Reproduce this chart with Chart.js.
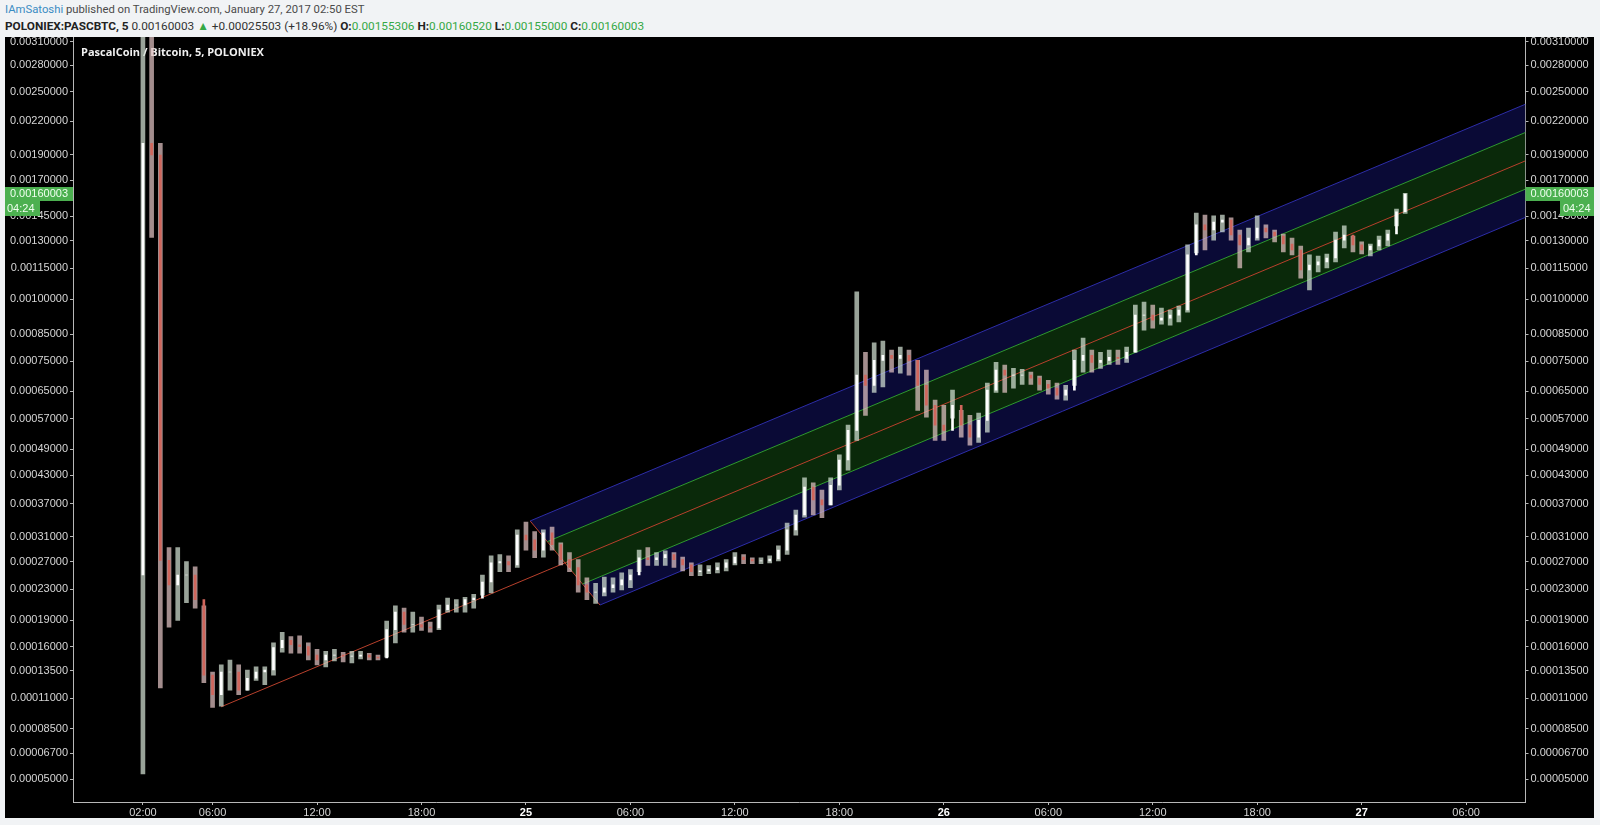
<!DOCTYPE html>
<html>
<head>
<meta charset="utf-8">
<script src="https://cdn.jsdelivr.net/npm/chart.js@4.4.1/dist/chart.umd.min.js"></script>
<style>
  html, body { margin:0; padding:0; background:#f1f3f5; }
  body { width:1600px; height:825px; position:relative; overflow:hidden; font-family:Roboto, sans-serif; }
  .hdr { position:absolute; left:5px; white-space:nowrap; color:#4a4a4a; }
  #l1 { top:3px; font-size:11.3px; }
  #l2 { top:19px; font-size:11.8px; color:#333; }
  .who { color:#3a8cc3; }
  .b { font-weight:bold; color:#222; }
  .g { color:#35a845; }
  #wrap { position:absolute; left:5px; top:37px; width:1589px; height:781px; background:#000; }
</style>
</head>
<body>
<div class="hdr" id="l1"><span class="who">IAmSatoshi</span> published on TradingView.com, January 27, 2017 02:50 EST</div>
<div class="hdr" id="l2"><span class="b">POLONIEX:PASCBTC, 5</span> 0.00160003 <span class="g">&#9650;</span> +0.00025503 (+18.96%) <span class="b">O:</span><span class="g">0.00155306</span> <span class="b">H:</span><span class="g">0.00160520</span> <span class="b">L:</span><span class="g">0.00155000</span> <span class="b">C:</span><span class="g">0.00160003</span></div>
<div id="wrap"><canvas id="c"></canvas></div>
<script>
// 30-min bars, hours since Jan 24 00:00
const hours = [2,2.5,3,3.5,4,4.5,5,5.5,6,6.5,7,7.5,8,8.5,9,9.5,10,10.5,11,11.5,12,12.5,13,13.5,14,14.5,15,15.5,16,16.5,17,17.5,18,18.5,19,19.5,20,20.5,21,21.5,22,22.5,23,23.5,24,24.5,25,25.5,26,26.5,27,27.5,28,28.5,29,29.5,30,30.5,31,31.5,32,32.5,33,33.5,34,34.5,35,35.5,36,36.5,37,37.5,38,38.5,39,39.5,40,40.5,41,41.5,42,42.5,43,43.5,44,44.5,45,45.5,46,46.5,47,47.5,48,48.5,49,49.5,50,50.5,51,51.5,52,52.5,53,53.5,54,54.5,55,55.5,56,56.5,57,57.5,58,58.5,59,59.5,60,60.5,61,61.5,62,62.5,63,63.5,64,64.5,65,65.5,66,66.5,67,67.5,68,68.5,69,69.5,70,70.5,71,71.5,72,72.5,73,73.5,74,74.5];
const highs = [0.0036,0.0036,0.002,0.000292,0.000292,0.00027,0.000262,0.000208,0.000134,0.000141,
  0.000146,0.000141,0.000136,0.000139,0.000139,0.000164,0.000176,0.000171,0.000172,0.000164,
  0.000157,0.000155,0.000157,0.000154,0.000155,0.000155,0.000153,0.000151,0.000189,0.000208,
  0.000205,0.0002,0.000194,0.000188,0.000209,0.000218,0.000216,0.000219,0.000223,0.00025,
  0.000279,0.000281,0.000279,0.000322,0.000336,0.000319,0.000322,0.000327,0.0003,0.000284,
  0.000273,0.000246,0.000238,0.000247,0.000246,0.000253,0.000258,0.000288,0.000292,0.000284,
  0.000287,0.000284,0.000277,0.000268,0.000265,0.000264,0.000268,0.000273,0.000284,0.000281,
  0.000276,0.000276,0.000279,0.000295,0.000334,0.000358,0.000424,0.000413,0.000398,0.000424,
  0.000476,0.000552,0.001033,0.000782,0.000817,0.000824,0.00079,0.000801,0.00079,0.000753,
  0.000719,0.000623,0.000608,0.000654,0.000593,0.000579,0.000585,0.000676,0.000746,0.000736,
  0.000725,0.000722,0.000712,0.000699,0.000685,0.000676,0.000669,0.00079,0.000835,0.00079,
  0.000782,0.00079,0.00079,0.000801,0.000973,0.000986,0.000973,0.000959,0.000951,0.000968,
  0.001277,0.001472,0.001459,0.001453,0.001459,0.00144,0.001365,0.001377,0.001453,0.001396,
  0.001365,0.001341,0.001317,0.001271,0.001221,0.001215,0.001226,0.001353,0.00139,0.001329,
  0.001294,0.001282,0.001329,0.001365,0.001498,0.0016052];
const lows = [0.0000533,0.00132,0.000119,0.000182,0.00019,0.000212,0.000205,0.000124,0.000102,0.000103,
  0.000117,0.000113,0.000117,0.000126,0.000122,0.000131,0.000154,0.000153,0.000153,0.000146,
  0.000141,0.000139,0.000145,0.000144,0.000143,0.000147,0.000146,0.000146,0.000149,0.000164,
  0.000176,0.000176,0.000178,0.000176,0.000179,0.0002,0.0002,0.0002,0.000205,0.000222,
  0.000225,0.000255,0.000255,0.000261,0.000288,0.000276,0.000277,0.000288,0.000265,0.000255,
  0.000226,0.000216,0.000211,0.000221,0.000226,0.000229,0.000232,0.000255,0.000264,0.000264,
  0.000264,0.000261,0.000256,0.000249,0.000249,0.000252,0.000253,0.000256,0.000265,0.000267,
  0.000267,0.000267,0.000268,0.000271,0.000281,0.000313,0.000345,0.000349,0.000344,0.000368,
  0.000398,0.000441,0.000512,0.000579,0.000647,0.000664,0.000712,0.000709,0.000702,0.000593,
  0.000574,0.000512,0.000512,0.000571,0.00052,0.0005,0.000507,0.000533,0.000647,0.000647,
  0.00066,0.000672,0.000672,0.000654,0.000641,0.000626,0.000623,0.000669,0.000712,0.000712,
  0.000725,0.000739,0.000739,0.000746,0.000782,0.000867,0.000875,0.000891,0.000887,0.0009,
  0.000942,0.001232,0.001248,0.001305,0.001353,0.001305,0.001151,0.001237,0.001305,0.001317,
  0.001294,0.001237,0.001221,0.0011,0.001042,0.001131,0.001151,0.001183,0.00126,0.001237,
  0.001226,0.001215,0.001248,0.001271,0.00139,0.00147];
const closes = [0.002,0.0019,0.000272,0.000236,0.00025,0.00025,0.000216,0.000131,0.000113,0.000134,
  0.000134,0.000117,0.000128,0.000134,0.000136,0.000159,0.000167,0.000162,0.00016,0.000151,
  0.000146,0.000151,0.000151,0.00015,0.00015,0.000151,0.000149,0.000148,0.000179,0.0002,
  0.000185,0.000185,0.000182,0.000181,0.000203,0.000209,0.000209,0.000216,0.000218,0.00024,
  0.000268,0.00027,0.000265,0.000313,0.000305,0.000288,0.000317,0.000297,0.000273,0.000261,
  0.000236,0.000226,0.000226,0.000232,0.000236,0.000243,0.00025,0.000276,0.000273,0.000276,
  0.000281,0.000273,0.000265,0.000255,0.000256,0.000258,0.000261,0.000268,0.000277,0.000273,
  0.000271,0.000271,0.000274,0.000288,0.000322,0.000349,0.000404,0.000378,0.000368,0.000408,
  0.000464,0.000538,0.000702,0.000669,0.000753,0.000771,0.00076,0.000771,0.000753,0.000669,
  0.000608,0.000552,0.000538,0.000608,0.000552,0.00052,0.000565,0.000654,0.000719,0.000702,
  0.000702,0.000702,0.000692,0.000672,0.00066,0.000638,0.000654,0.000753,0.000771,0.000746,
  0.000753,0.000764,0.00076,0.000782,0.000929,0.000929,0.000908,0.000916,0.000929,0.000951,
  0.001221,0.001396,0.001365,0.001414,0.001427,0.001335,0.001277,0.001317,0.001377,0.001353,
  0.001329,0.001282,0.001248,0.001141,0.001167,0.001183,0.001204,0.001305,0.001335,0.001277,
  0.001248,0.001271,0.001305,0.001341,0.00148,0.00160003];
const firstOpen = 0.00025;

// drawings: [hour, price]
const trendMid   = [[6.485, 0.0001025], [81.41, 0.001852]];
const chanTopB   = [[24.24, 0.000338], [81.41, 0.002369]];
const chanTopG   = [[25.23, 0.000302], [81.41, 0.002096]];
const chanBotG   = [[27.24, 0.000237], [81.41, 0.001636]];
const chanBotB   = [[28.25, 0.000209], [81.41, 0.001444]];
const chanEdge   = [[24.24, 0.000338], [28.25, 0.000209]];

const xTickHours  = [2, 6, 12, 18, 24, 30, 36, 42, 48, 54, 60, 66, 72, 78];
const xTickLabels = ['02:00','06:00','12:00','18:00','25','06:00','12:00','18:00','26','06:00','12:00','18:00','27','06:00'];
const yTickValues = [0.00005,0.000067,0.000085,0.00011,0.000135,0.00016,0.00019,0.00023,0.00027,0.00031,
  0.00037,0.00043,0.00049,0.00057,0.00065,0.00075,0.00085,0.001,0.00115,0.0013,0.00145,0.0017,0.0019,
  0.0022,0.0025,0.0028,0.0031];

const X_MIN = -2.016, X_MAX = 81.41;
const Y_MIN = 0.00003645, Y_MAX = 0.003163;
const PRICE_SHIFT = 0.0001;
const countdown = '04:24';
const title = 'PascalCoin / Bitcoin, 5, POLONIEX';

// tradingview-ish price axis: log of (price + shift)
class PriceScale extends Chart.LinearScale {
  buildTicks() { return yTickValues.map(v => ({value: v})); }
  configure() {
    super.configure();
    this._lo = Math.log(this.min + PRICE_SHIFT);
    this._hi = Math.log(this.max + PRICE_SHIFT);
  }
  getPixelForValue(value) {
    return this.getPixelForDecimal((Math.log(value + PRICE_SHIFT) - this._lo) / (this._hi - this._lo));
  }
  getValueForPixel(pixel) {
    return Math.exp(this._lo + this.getDecimalForPixel(pixel) * (this._hi - this._lo)) - PRICE_SHIFT;
  }
}
PriceScale.id = 'price';
PriceScale.defaults = {};
Chart.register(PriceScale);

const opens = closes.map((c, i) => i ? closes[i-1] : firstOpen);
const isUp = i => closes[i] >= opens[i];
const pts = arr => arr.map(p => ({x: p[0], y: p[1]}));
const band = (a, b) => pts([a[0], a[1], b[1], b[0]]);
const isDay = c => c && c.index !== undefined && (xTickLabels[c.index] || '').length === 2;

const AXIS = '#b8b8b8';
const LABEL = '#d6d6d6';
const FAMILY = '"Liberation Sans", Arial, sans-serif';

const yAxis = pos => ({
  type: 'price', position: pos, min: Y_MIN, max: Y_MAX,
  afterFit: s => { s.width = pos === 'left' ? 68 : 68.5; s.paddingTop = 0; s.paddingBottom = 0; },
  grid: { drawOnChartArea: false, tickLength: 3, color: AXIS },
  border: { color: AXIS },
  ticks: { autoSkip: false, padding: 2, color: LABEL, font: {family: FAMILY, size: 11}, callback: v => v.toFixed(8) }
});

const extras = {
  id: 'extras',
  beforeDatasetsDraw(chart) {
    const {ctx, chartArea} = chart;
    ctx.save();
    ctx.fillStyle = '#f0f0f0';
    ctx.font = 'bold 11px "Open Sans", sans-serif';
    ctx.textBaseline = 'middle';
    ctx.fillText(title, chartArea.left + 8, chartArea.top + 16);
    ctx.restore();
  },
  afterDraw(chart) {
    const {ctx} = chart;
    const yl = chart.scales.y, yr = chart.scales.y2;
    const last = closes[closes.length - 1];
    const py = Math.round(yl.getPixelForValue(last));
    const txt = last.toFixed(8);
    ctx.save();
    ctx.font = '11px ' + FAMILY;
    ctx.textBaseline = 'middle';
    ctx.fillStyle = '#4cb050';
    ctx.fillRect(0, py - 7, yl.right, 14);
    ctx.fillRect(0, py + 7, 35, 15);
    ctx.fillRect(yr.left, py - 7, chart.width - yr.left, 14);
    ctx.fillRect(chart.width - 34, py + 7, 34, 15);
    ctx.fillStyle = '#f0fff0';
    ctx.textAlign = 'right';
    ctx.fillText(txt, yl.right - 5, py);
    ctx.textAlign = 'left';
    ctx.fillText(countdown, 2, py + 15);
    ctx.fillText(txt, yr.left + 5, py);
    ctx.fillText(countdown, chart.width - 31, py + 15);
    ctx.restore();
  }
};

new Chart(document.getElementById('c'), {
  type: 'bar',
  data: {
    datasets: [
      { type: 'line', data: band(chanTopB, chanTopG), fill: 'shape', backgroundColor: '#0a0a36', borderWidth: 0, pointRadius: 0, order: 20 },
      { type: 'line', data: band(chanTopG, chanBotG), fill: 'shape', backgroundColor: '#0a290a', borderWidth: 0, pointRadius: 0, order: 20 },
      { type: 'line', data: band(chanBotG, chanBotB), fill: 'shape', backgroundColor: '#0a0a36', borderWidth: 0, pointRadius: 0, order: 20 },
      { type: 'line', data: pts(chanTopB), borderColor: '#2d2da8', borderWidth: 1, pointRadius: 0, fill: false, order: 10 },
      { type: 'line', data: pts(chanBotB), borderColor: '#2d2da8', borderWidth: 1, pointRadius: 0, fill: false, order: 10 },
      { type: 'line', data: pts(chanTopG), borderColor: '#2f9a2f', borderWidth: 1, pointRadius: 0, fill: false, order: 10 },
      { type: 'line', data: pts(chanBotG), borderColor: '#2f9a2f', borderWidth: 1, pointRadius: 0, fill: false, order: 10 },
      { type: 'line', data: pts(trendMid), borderColor: '#b8402c', borderWidth: 1, pointRadius: 0, fill: false, order: 10 },
      { type: 'line', data: pts(chanEdge), borderColor: '#b8402c', borderWidth: 1, pointRadius: 0, fill: false, order: 10 },
      // high-low range of each half hour (many thin 5-min candles in the original)
      { data: hours.map((h, i) => ({x: h, y: [lows[i], highs[i]]})), barThickness: 4, grouped: false, order: 2,
        backgroundColor: c => isUp(c.dataIndex) ? 'rgba(212,226,212,0.72)' : 'rgba(226,196,196,0.72)' },
      // open-close
      { data: hours.map((h, i) => ({x: h, y: [opens[i], closes[i]]})), barThickness: 2, grouped: false, order: 1,
        backgroundColor: c => isUp(c.dataIndex) ? '#ffffff' : '#d0665c' }
    ]
  },
  options: {
    responsive: true, maintainAspectRatio: false, animation: false, events: [],
    layout: { padding: 0 },
    plugins: { legend: { display: false }, tooltip: { enabled: false } },
    scales: {
      x: {
        type: 'linear', min: X_MIN, max: X_MAX, offset: false,
        afterBuildTicks: s => { s.ticks = xTickHours.map(v => ({value: v})); },
        afterFit: s => { s.height = 16; s.paddingLeft = 0; s.paddingRight = 0; },
        grid: { drawOnChartArea: false, offset: false, tickLength: 3, color: AXIS },
        border: { color: AXIS },
        ticks: {
          autoSkip: false, maxRotation: 0, padding: 1,
          color: c => isDay(c) ? '#ffffff' : LABEL,
          font: c => ({family: FAMILY, size: 11, weight: isDay(c) ? 'bold' : 'normal'}),
          callback: (v, i) => xTickLabels[i]
        }
      },
      y: yAxis('left'),
      y2: yAxis('right')
    }
  },
  plugins: [extras]
});
</script>
</body>
</html>
